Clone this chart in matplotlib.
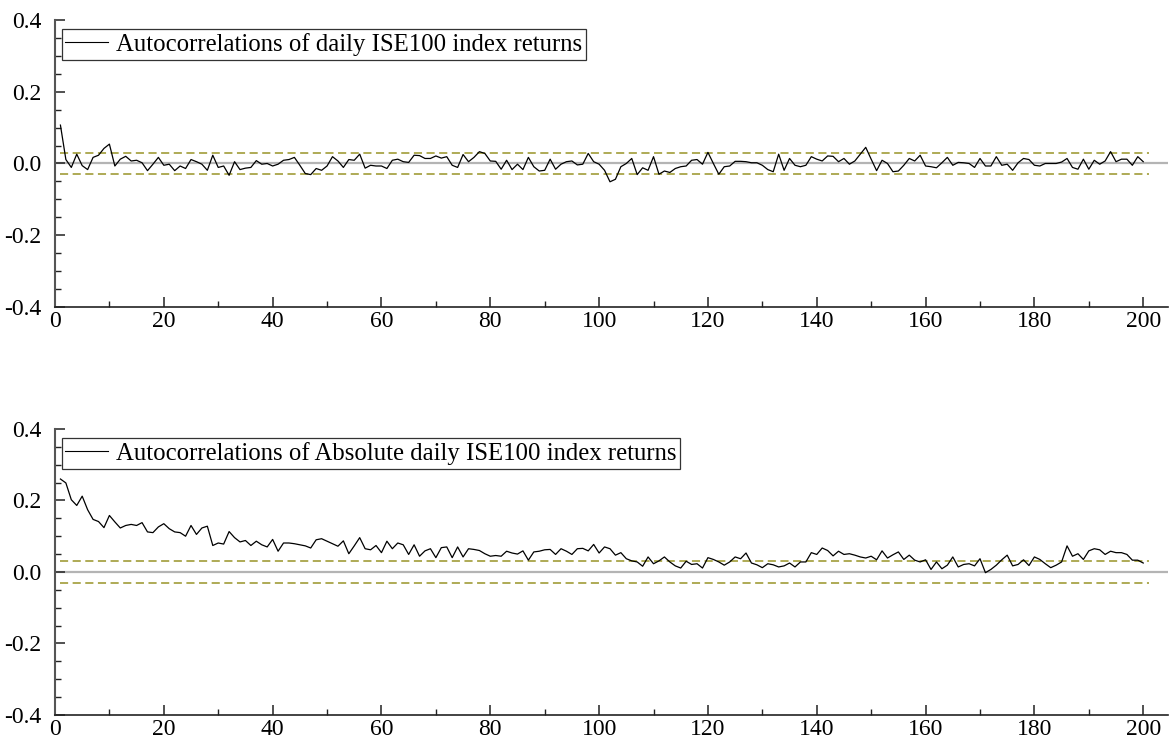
import numpy as np
import matplotlib
matplotlib.use("Agg")
import matplotlib.pyplot as plt
from matplotlib.ticker import MultipleLocator, FormatStrFormatter

plt.rcParams['font.family'] = ['Liberation Serif', 'DejaVu Serif']
plt.rcParams['axes.unicode_minus'] = False

lags = np.arange(1, 201)

# autocorrelations of daily returns, lags 1..200
acf_ret = [
    0.107, 0.011, -0.011, 0.026, -0.006, -0.017, 0.017, 0.023, 0.042, 0.054,
    -0.007, 0.012, 0.020, 0.007, 0.009, 0.002, -0.020, -0.002, 0.017, -0.005,
    -0.002, -0.020, -0.007, -0.014, 0.011, 0.005, -0.002, -0.019, 0.023, -0.011,
    -0.007, -0.033, 0.005, -0.017, -0.013, -0.011, 0.008, -0.002, 0.000, -0.007,
    -0.002, 0.009, 0.011, 0.017, -0.005, -0.028, -0.031, -0.014, -0.019, -0.007,
    0.019, 0.007, -0.011, 0.011, 0.009, 0.026, -0.013, -0.005, -0.007, -0.007,
    -0.014, 0.009, 0.012, 0.005, 0.003, 0.023, 0.022, 0.014, 0.014, 0.021,
    0.015, 0.019, -0.005, -0.011, 0.025, 0.005, 0.017, 0.033, 0.028, 0.007,
    0.006, -0.016, 0.009, -0.017, -0.002, -0.017, 0.017, -0.009, -0.021, -0.019,
    0.012, -0.016, -0.002, 0.005, 0.007, -0.004, -0.002, 0.028, 0.005, -0.002,
    -0.019, -0.051, -0.044, -0.009, 0.000, 0.014, -0.031, -0.012, -0.019, 0.019,
    -0.030, -0.021, -0.025, -0.014, -0.009, -0.007, 0.009, 0.011, -0.002, 0.031,
    0.000, -0.030, -0.009, -0.007, 0.006, 0.006, 0.005, 0.002, 0.002, -0.005,
    -0.017, -0.023, 0.026, -0.019, 0.014, -0.005, -0.009, -0.005, 0.019, 0.012,
    0.007, 0.021, 0.020, 0.005, 0.014, -0.002, 0.007, 0.026, 0.045, 0.012,
    -0.020, 0.009, 0.000, -0.023, -0.021, -0.005, 0.014, 0.007, 0.023, -0.007,
    -0.009, -0.012, 0.002, 0.017, -0.005, 0.003, 0.002, 0.000, -0.011, 0.014,
    -0.007, -0.007, 0.019, -0.005, -0.002, -0.019, 0.002, 0.014, 0.011, -0.005,
    -0.007, 0.000, 0.000, 0.000, 0.004, 0.014, -0.011, -0.016, 0.012, -0.016,
    0.009, -0.002, 0.007, 0.033, 0.005, 0.012, 0.012, -0.005, 0.019, 0.005,
]

# autocorrelations of absolute daily returns, lags 1..200
acf_abs = [
    0.260, 0.249, 0.202, 0.186, 0.212, 0.174, 0.147, 0.141, 0.124, 0.158,
    0.140, 0.123, 0.130, 0.133, 0.130, 0.138, 0.112, 0.110, 0.126, 0.135,
    0.121, 0.112, 0.110, 0.100, 0.130, 0.105, 0.123, 0.128, 0.074, 0.081,
    0.078, 0.113, 0.096, 0.084, 0.088, 0.074, 0.086, 0.076, 0.070, 0.091,
    0.058, 0.081, 0.081, 0.079, 0.076, 0.073, 0.067, 0.090, 0.093, 0.086,
    0.079, 0.072, 0.087, 0.051, 0.073, 0.096, 0.065, 0.062, 0.074, 0.054,
    0.086, 0.065, 0.081, 0.076, 0.049, 0.076, 0.044, 0.059, 0.065, 0.040,
    0.068, 0.070, 0.040, 0.070, 0.042, 0.065, 0.063, 0.060, 0.051, 0.044,
    0.046, 0.044, 0.058, 0.053, 0.050, 0.059, 0.033, 0.056, 0.058, 0.062,
    0.063, 0.049, 0.065, 0.058, 0.049, 0.065, 0.066, 0.059, 0.077, 0.053,
    0.070, 0.065, 0.047, 0.054, 0.037, 0.031, 0.028, 0.016, 0.042, 0.023,
    0.031, 0.042, 0.028, 0.017, 0.011, 0.030, 0.021, 0.023, 0.011, 0.040,
    0.035, 0.028, 0.019, 0.028, 0.042, 0.037, 0.053, 0.025, 0.020, 0.012,
    0.023, 0.020, 0.014, 0.017, 0.025, 0.014, 0.028, 0.028, 0.054, 0.049,
    0.067, 0.060, 0.045, 0.058, 0.049, 0.051, 0.047, 0.042, 0.039, 0.044,
    0.034, 0.059, 0.039, 0.048, 0.056, 0.035, 0.047, 0.033, 0.028, 0.034,
    0.007, 0.028, 0.009, 0.019, 0.042, 0.014, 0.021, 0.023, 0.017, 0.037,
    -0.002, 0.007, 0.019, 0.034, 0.047, 0.017, 0.021, 0.034, 0.018, 0.042,
    0.035, 0.023, 0.012, 0.019, 0.028, 0.073, 0.044, 0.051, 0.035, 0.059,
    0.065, 0.062, 0.049, 0.058, 0.054, 0.054, 0.049, 0.033, 0.033, 0.025,
]

conf_band = 0.03
labels = [
    "Autocorrelations of daily ISE100 index returns",
    "Autocorrelations of Absolute daily ISE100 index returns",
]

fig = plt.figure(figsize=(11.75, 7.46), dpi=100)
ax_top = fig.add_axes([0.0468, 0.5885, 0.947, 0.3847])
ax_bot = fig.add_axes([0.0468, 0.0416, 0.947, 0.3834])

for ax, series, label in zip([ax_top, ax_bot], [acf_ret, acf_abs], labels):
    ax.axhline(0, color='#b4b4b4', lw=1.6, zorder=1)
    ax.hlines([conf_band, -conf_band], 1, 201, colors='#a8a448', lw=1.3,
              linestyles=[(0, (4.5, 2.5))], zorder=2)
    ax.plot(lags, series, color='black', lw=0.9, label=label, zorder=3)

    ax.set_xlim(0, 204.5)
    ax.set_ylim(-0.4, 0.4)
    ax.xaxis.set_major_locator(MultipleLocator(20))
    ax.xaxis.set_minor_locator(MultipleLocator(10))
    ax.yaxis.set_major_locator(MultipleLocator(0.2))
    ax.yaxis.set_minor_locator(MultipleLocator(0.05))
    ax.yaxis.set_major_formatter(FormatStrFormatter('%.1f'))

    for side in ['top', 'right']:
        ax.spines[side].set_visible(False)
    ax.spines['left'].set_color('#555555')
    ax.spines['left'].set_linewidth(1.5)
    ax.spines['bottom'].set_color('#222222')
    ax.spines['bottom'].set_linewidth(1.2)

    ax.tick_params(which='both', direction='in', labelsize=17, color='#222222')
    ax.tick_params(which='major', length=7, width=1.1)
    ax.tick_params(which='minor', length=4, width=1.0)
    ax.tick_params(axis='x', pad=3)
    ax.tick_params(axis='y', pad=10)

    leg = ax.legend(loc='upper left', bbox_to_anchor=(0.006, 0.968),
                    borderaxespad=0, fontsize=17.8, frameon=True,
                    fancybox=False, handlelength=1.72, handletextpad=0.33,
                    borderpad=0.15)
    leg.get_frame().set_edgecolor('black')
    leg.get_frame().set_linewidth(0.9)
    leg.get_lines()[0].set_linewidth(0.8)

fig.savefig('out.png', dpi=100)
